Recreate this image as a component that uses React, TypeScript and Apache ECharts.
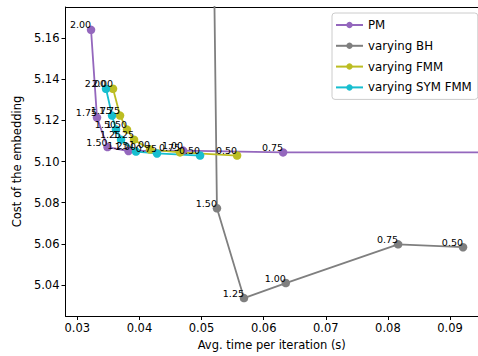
import React, { useEffect, useRef } from "react";
import * as echarts from "echarts";

const thetaLabels = ["2.00", "1.75", "1.50", "1.25", "1.00", "0.75", "0.50"];

const pmTime = [0.03221, 0.03317, 0.03486, 0.03824, 0.04702, 0.06312, 0.115];
const pmCost = [5.1639, 5.1213, 5.107, 5.1051, 5.1053, 5.1044, 5.1044];

const bhTheta = ["1.75", "1.50", "1.25", "1.00", "0.75", "0.50"];
const bhTime = [0.0519, 0.05248, 0.05683, 0.06356, 0.08164, 0.09209];
const bhCost = [5.22, 5.0773, 5.0337, 5.041, 5.0598, 5.0584];

const fmmTime = [0.03575, 0.03688, 0.038, 0.03913, 0.04171, 0.04654, 0.05572];
const fmmCost = [5.1353, 5.1223, 5.1155, 5.1106, 5.1058, 5.1044, 5.1029];

const symTime = [0.03462, 0.03559, 0.03623, 0.03704, 0.03945, 0.04283, 0.04976];
const symCost = [5.1353, 5.1223, 5.1155, 5.1106, 5.1048, 5.1039, 5.1029];

const xTicks = [0.03, 0.04, 0.05, 0.06, 0.07, 0.08, 0.09];
const yTicks = [5.04, 5.06, 5.08, 5.1, 5.12, 5.14, 5.16];

const FONT = "DejaVu Sans";

function build(xs: number[], ys: number[], labs: string[]) {
  return xs.map((x, i) => [x, ys[i], labs[i]]);
}

function mkSeries(name: string, color: string, data: any[]) {
  return {
    name,
    type: "line",
    data,
    color,
    symbol: "circle",
    symbolSize: 8.5,
    clip: true,
    lineStyle: { width: 1.8, color },
    itemStyle: { color },
    label: {
      show: true,
      position: [4.25, 4.25],
      align: "right",
      verticalAlign: "bottom",
      formatter: (p: any) => p.value[2],
      color: "#000",
      fontSize: 9.5,
      fontFamily: FONT,
    },
    emphasis: { disabled: true },
  };
}

export default function App() {
  const ref = useRef<HTMLDivElement>(null);
  useEffect(() => {
    if (!ref.current) return;
    const chart = echarts.init(ref.current, null, { renderer: "svg" });
    const xMin = 0.0281;
    const xMax = 0.0945;
    const yMin = 5.025;
    const yMax = 5.175;
    chart.setOption({
      animation: false,
      textStyle: { fontFamily: FONT },
      grid: { left: 65.5, right: 0, top: 7, bottom: 39 },
      legend: {
        orient: "vertical",
        left: 332,
        top: 13,
        padding: [6, 6, 6, 3],
        itemWidth: 27,
        itemHeight: 8,
        itemGap: 8.8,
        backgroundColor: "rgba(255,255,255,0.85)",
        borderColor: "#cccccc",
        borderWidth: 1,
        borderRadius: 3,
        textStyle: { fontSize: 11.8, color: "#000", fontFamily: FONT },
        data: ["PM", "varying BH", "varying FMM", "varying SYM FMM"],
      },
      xAxis: [
        {
          type: "value",
          min: xMin,
          max: xMax,
          name: "Avg. time per iteration (s)",
          nameLocation: "middle",
          nameGap: 23,
          nameTextStyle: { fontSize: 11.5, color: "#000", fontFamily: FONT },
          axisLine: { show: true, lineStyle: { color: "#000", width: 1 } },
          axisTick: { show: true, length: 4, lineStyle: { color: "#000" }, customValues: xTicks },
          axisLabel: {
            customValues: xTicks,
            formatter: (v: number) => v.toFixed(2),
            fontSize: 11.5,
            color: "#000",
            margin: 6,
            fontFamily: FONT,
          },
          splitLine: { show: false },
        },
        {
          type: "value",
          position: "top",
          min: xMin,
          max: xMax,
          axisLine: { show: true, onZero: false, lineStyle: { color: "#000", width: 1 } },
          axisTick: { show: false },
          axisLabel: { show: false },
          splitLine: { show: false },
        },
      ],
      yAxis: {
        type: "value",
        min: yMin,
        max: yMax,
        name: "Cost of the embedding",
        nameLocation: "middle",
        nameGap: 42,
        nameRotate: 90,
        nameTextStyle: { fontSize: 11.5, color: "#000", fontFamily: FONT },
        axisLine: { show: true, lineStyle: { color: "#000", width: 1 } },
        axisTick: { show: true, length: 4, lineStyle: { color: "#000" }, customValues: yTicks },
        axisLabel: {
          customValues: yTicks,
          formatter: (v: number) => v.toFixed(2),
          fontSize: 11.5,
          color: "#000",
          margin: 6,
          fontFamily: FONT,
        },
        splitLine: { show: false },
      },
      series: [
        mkSeries("PM", "#9467bd", build(pmTime, pmCost, thetaLabels)),
        mkSeries("varying BH", "#7f7f7f", build(bhTime, bhCost, bhTheta)),
        mkSeries("varying FMM", "#bcbd22", build(fmmTime, fmmCost, thetaLabels)),
        mkSeries("varying SYM FMM", "#17becf", build(symTime, symCost, thetaLabels)),
      ],
    });
    return () => chart.dispose();
  }, []);
  return (
    <div
      ref={ref}
      style={{ position: "absolute", left: 0, top: 0, width: 478, height: 356, background: "#fff" }}
    />
  );
}
